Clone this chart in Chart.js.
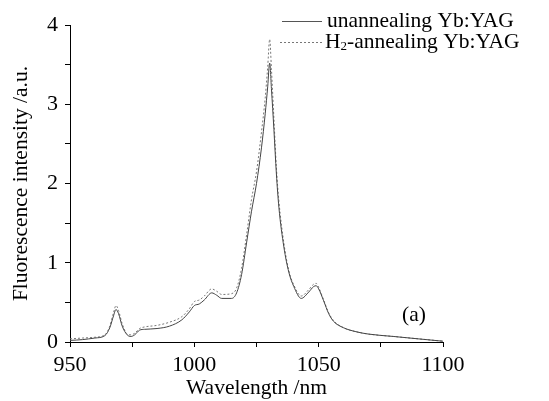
<!DOCTYPE html>
<html>
<head>
<meta charset="utf-8">
<script src="https://cdn.jsdelivr.net/npm/chart.js@4"></script>
<style>
  html, body { margin: 0; padding: 0; background: #fff; }
  #wrap { width: 549px; height: 401px; }
</style>
</head>
<body>
<div id="wrap"><canvas id="spectrum" width="549" height="401"></canvas></div>
<script>
// wavelength (nm) shared by both curves
const wavelengths = [950, 955, 960, 964, 966, 967.5, 968.5, 969.5, 971, 973, 974.5, 976, 978, 980, 985, 990, 995, 998, 1000, 1002, 1004, 1007, 1009, 1011, 1015, 1017, 1019, 1021, 1023, 1025, 1027, 1028.5, 1029.5, 1030.3, 1031, 1032, 1033, 1034, 1036, 1038, 1040, 1043, 1046, 1048, 1049, 1050, 1052, 1054, 1056, 1060, 1065, 1070, 1080, 1090, 1100];
const unannealed = [0.02, 0.03, 0.05, 0.08, 0.18, 0.33, 0.41, 0.36, 0.2, 0.09, 0.07, 0.09, 0.15, 0.16, 0.17, 0.2, 0.28, 0.38, 0.46, 0.48, 0.53, 0.62, 0.59, 0.55, 0.55, 0.62, 0.85, 1.25, 1.65, 2.0, 2.45, 2.88, 3.22, 3.52, 3.2, 2.68, 2.12, 1.7, 1.2, 0.88, 0.7, 0.55, 0.63, 0.7, 0.71, 0.67, 0.52, 0.36, 0.26, 0.18, 0.13, 0.1, 0.07, 0.04, 0.01];
const h2Annealed = [0.04, 0.05, 0.06, 0.09, 0.2, 0.37, 0.46, 0.4, 0.23, 0.1, 0.09, 0.11, 0.17, 0.19, 0.21, 0.25, 0.32, 0.42, 0.51, 0.53, 0.58, 0.67, 0.64, 0.6, 0.61, 0.68, 0.93, 1.35, 1.8, 2.15, 2.65, 3.08, 3.47, 3.82, 3.45, 2.82, 2.2, 1.78, 1.25, 0.9, 0.72, 0.58, 0.66, 0.73, 0.74, 0.69, 0.53, 0.37, 0.27, 0.18, 0.13, 0.1, 0.07, 0.04, 0.01];
const xTicks = [950, 1000, 1050, 1100];
const yTicks = [0, 1, 2, 3, 4];

const serif = "'Liberation Serif', 'DejaVu Serif', serif";
const toPoints = (ys) => wavelengths.map((x, i) => ({ x: x, y: ys[i] }));

// legend in top-right corner plus the (a) label
const annotate = {
  id: "annotate",
  afterDraw(chart) {
    const ctx = chart.ctx;
    ctx.save();
    ctx.font = "21.5px " + serif;
    ctx.fillStyle = "#000";
    ctx.textBaseline = "middle";

    ctx.strokeStyle = "#555";
    ctx.lineWidth = 1;
    ctx.beginPath();
    ctx.moveTo(282, 21.5);
    ctx.lineTo(322, 21.5);
    ctx.stroke();
    ctx.fillText("unannealing Yb:YAG", 327, 21);

    ctx.strokeStyle = "#777";
    ctx.setLineDash([2, 2]);
    ctx.beginPath();
    ctx.moveTo(280, 42.5);
    ctx.lineTo(322, 42.5);
    ctx.stroke();
    ctx.setLineDash([]);
    ctx.fillText("H", 325, 42);
    const hw = ctx.measureText("H").width;
    ctx.font = "13px " + serif;
    ctx.fillText("2", 325 + hw, 47);
    const sw = ctx.measureText("2").width;
    ctx.font = "21.5px " + serif;
    ctx.fillText("-annealing Yb:YAG", 325 + hw + sw, 42);

    ctx.textAlign = "center";
    ctx.fillText("(a)", 414, 315);
    ctx.restore();
  }
};

new Chart(document.getElementById("spectrum"), {
  type: "line",
  data: {
    datasets: [
      {
        label: "unannealing Yb:YAG",
        data: toPoints(unannealed),
        borderColor: "#444",
        borderWidth: 1,
        pointRadius: 0,
        cubicInterpolationMode: "monotone",
        fill: false,
      },
      {
        label: "H2-annealing Yb:YAG",
        data: toPoints(h2Annealed),
        borderColor: "#777",
        borderWidth: 1,
        borderDash: [2, 2],
        pointRadius: 0,
        cubicInterpolationMode: "monotone",
        fill: false,
      },
    ],
  },
  options: {
    responsive: false,
    animation: false,
    layout: { padding: { top: 25, right: 106, left: 0, bottom: 0 } },
    plugins: { legend: { display: false }, tooltip: { enabled: false } },
    scales: {
      x: {
        type: "linear",
        min: 950,
        max: 1100,
        afterFit: (s) => { s.height = 59; },
        ticks: {
          stepSize: 25,
          autoSkip: false,
          color: "#000",
          font: { family: serif, size: 22 },
          padding: 5,
          maxRotation: 0,
          callback: (v) => (xTicks.includes(v) ? v : ""),
        },
        grid: { drawOnChartArea: false, tickLength: 5, color: "#000" },
        border: { color: "#000", width: 1 },
        title: {
          display: true,
          text: "Wavelength /nm",
          color: "#000",
          font: { family: serif, size: 21.5 },
          padding: { top: 0, bottom: 0 },
        },
      },
      y: {
        min: 0,
        max: 4,
        afterFit: (s) => { s.width = 70; },
        ticks: {
          stepSize: 0.5,
          autoSkip: false,
          color: "#000",
          font: { family: serif, size: 22 },
          padding: 7,
          callback: (v) => (yTicks.includes(v) ? v : ""),
        },
        grid: { drawOnChartArea: false, tickLength: 5, color: "#000" },
        border: { color: "#000", width: 1 },
        title: {
          display: true,
          text: "Fluorescence intensity /a.u.",
          color: "#000",
          font: { family: serif, size: 21.5 },
          padding: { top: 8, bottom: 0 },
        },
      },
    },
  },
  plugins: [annotate],
});
</script>
</body>
</html>
